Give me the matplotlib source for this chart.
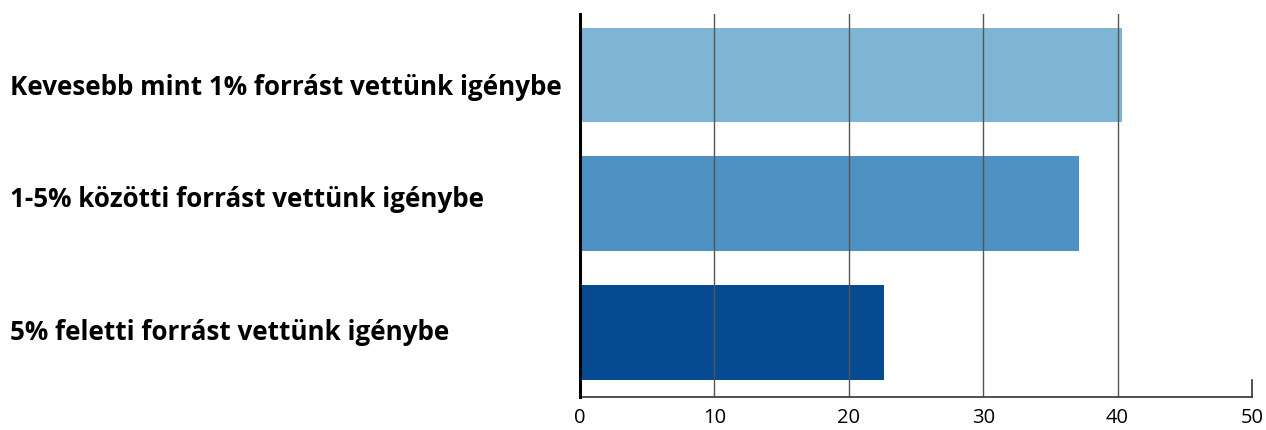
import matplotlib

matplotlib.use("Agg")
import matplotlib.pyplot as plt
from matplotlib.transforms import blended_transform_factory

categories = [
    "Kevesebb mint 1% forrást vettünk igénybe",
    "1-5% közötti forrást vettünk igénybe",
    "5% feletti forrást vettünk igénybe",
]
values = [40.3, 37.1, 22.6]
bar_colors = ["#7FB5D4", "#4E91C3", "#064A92"]
x_ticks = [0, 10, 20, 30, 40, 50]

plt.rcParams["font.family"] = ["Open Sans", "DejaVu Sans"]

fig = plt.figure(figsize=(12.66, 4.30), dpi=100)
ax = fig.add_axes([580 / 1266, 33 / 430, 672 / 1266, 383 / 430])

y = list(range(len(categories)))
ax.barh(y, values, height=0.73, color=bar_colors, zorder=1)

ax.set_xlim(0, 50)
ax.set_ylim(2.5, -0.47)
ax.set_xticks(x_ticks)
ax.set_xticklabels([str(t) for t in x_ticks], fontsize=14.5)
ax.set_yticks([])

# vertical grid drawn over the bars
for t in x_ticks[1:-1]:
    ax.axvline(t, color="#555555", lw=1.0, zorder=2)
# short end mark at the right end of the axis
ax.axvline(x_ticks[-1], ymin=0, ymax=17 / 383, color="#333333", lw=1.2, clip_on=False)

for side in ("top", "right"):
    ax.spines[side].set_visible(False)
ax.spines["left"].set_linewidth(2.2)
ax.spines["left"].set_color("black")
ax.spines["left"].set_zorder(3)
ax.spines["bottom"].set_linewidth(1.2)
ax.spines["bottom"].set_color("#333333")

ax.tick_params(axis="x", length=0, pad=8)

# label rows sit slightly off the bar centres
label_shift = [0.1, -0.03, 0.0]
trans = blended_transform_factory(fig.transFigure, ax.transData)
for yi, label, dy in zip(y, categories, label_shift):
    ax.text(10 / 1266, yi + dy, label, transform=trans, ha="left", va="center",
            fontsize=18.7, fontweight="bold", color="black")

fig.savefig("out.png", dpi=100)
